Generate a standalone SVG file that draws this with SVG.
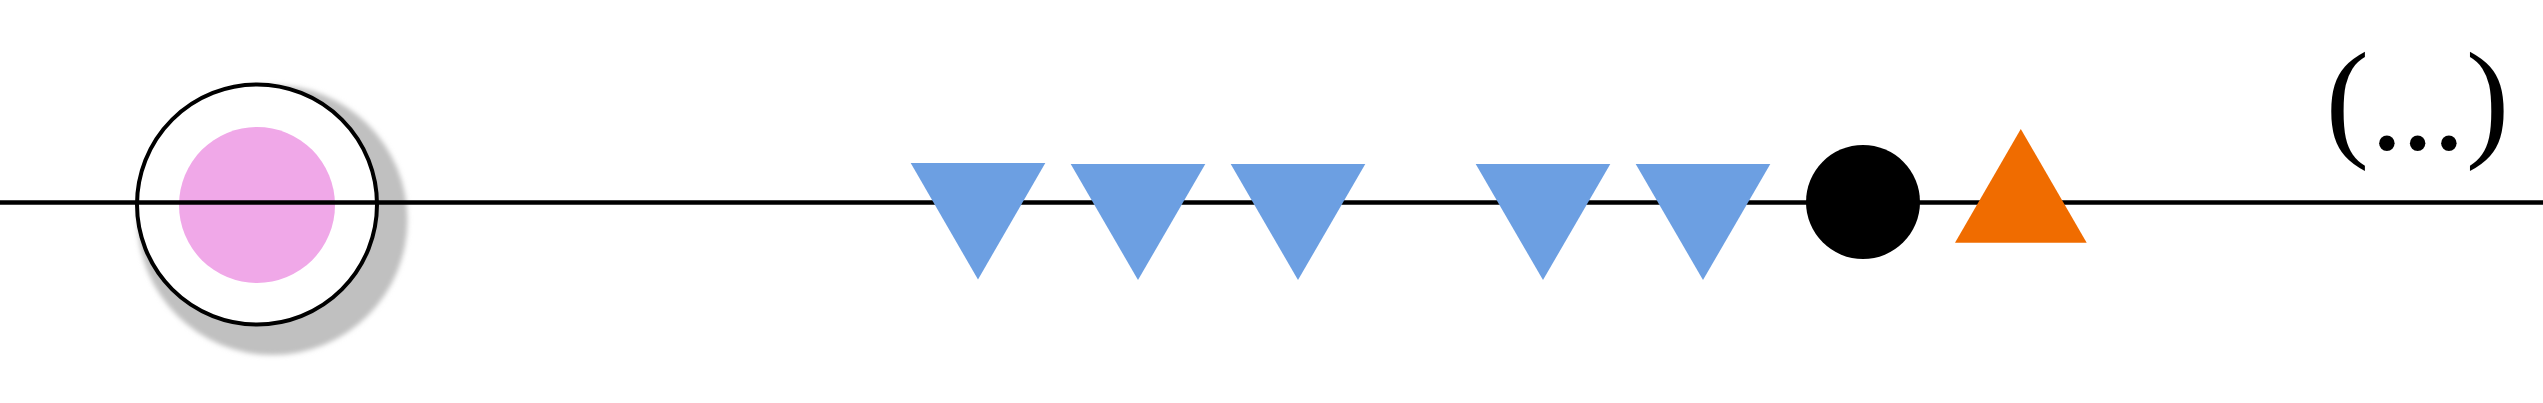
<svg xmlns="http://www.w3.org/2000/svg" width="2543" height="403" viewBox="0 0 2543 403">
  <defs>
    <filter id="blur" x="-20%" y="-20%" width="140%" height="140%">
      <feGaussianBlur stdDeviation="2.5"/>
    </filter>
    <style>
      .tri-down { fill: #6C9FE2; }
      .tri-up { fill: #F06C00; }
      .conn { stroke: #000; stroke-width: 4.5; fill: none; }
      .label { font-family: "Liberation Serif", "Times New Roman", serif; font-size: 131px; fill: #000; }
    </style>
  </defs>
  <rect width="2543" height="403" fill="#fff"/>
  <g id="start-node">
    <circle cx="272.5" cy="220" r="135" fill="#C0C0C0" filter="url(#blur)"/>
    <circle cx="257" cy="204.5" r="120" fill="#fff" stroke="#000" stroke-width="4"/>
    <circle cx="257" cy="205" r="78" fill="#F0A8E8"/>
  </g>
  <g id="connectors">
    <line class="conn" x1="0" y1="202.5" x2="2543" y2="202.5"/>
  </g>
  <g id="tri1"><polygon class="tri-down" points="910.7,163 1045.3,163 978,279.5"/></g>
  <g id="tri2"><polygon class="tri-down" points="1070.7,164 1205.3,164 1138,280"/></g>
  <g id="tri3"><polygon class="tri-down" points="1230.7,164 1365.3,164 1298,280"/></g>
  <g id="tri4"><polygon class="tri-down" points="1475.7,164 1610.3,164 1543,280"/></g>
  <g id="tri5"><polygon class="tri-down" points="1635.7,164 1770.3,164 1703,280"/></g>
  <g id="dot"><circle cx="1863" cy="202" r="57" fill="#000"/></g>
  <g id="tri-up"><polygon class="tri-up" points="2020.8,129 2086.7,242.7 1955,242.7"/></g>
  <g id="ellipsis">
    <text class="label" x="2325.4 2370.6 2401.3 2432.6 2465.7" y="143 148.5 148.5 148.5 143">(...)</text>
  </g>
</svg>
